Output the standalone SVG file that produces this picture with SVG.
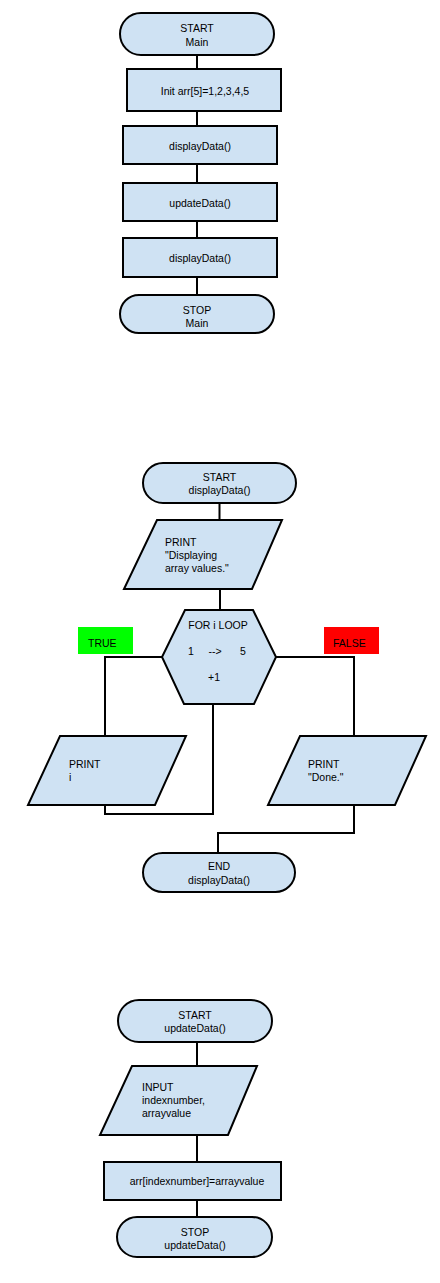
<svg xmlns="http://www.w3.org/2000/svg" width="440" height="1283" viewBox="0 0 440 1283">
<style>
.s{fill:#cfe2f3;stroke:#000;stroke-width:2}
.c{fill:none;stroke:#000;stroke-width:2}
text{font-family:"Liberation Sans",Arial,sans-serif;font-size:10.5px;fill:#000}
.m{text-anchor:middle}
</style>
<rect width="440" height="1283" fill="#fff"/>
<g id="connectors">
<path class="c" d="M197,55V69M197,111V126M197,164V183M197,221V238M197,277V295"/>
<path class="c" d="M219.5,503V520M220,589V610"/>
<path class="c" d="M162,657H105V736"/>
<path class="c" d="M276,657H354V736"/>
<path class="c" d="M213,704V814H105V805"/>
<path class="c" d="M354,805V833H218V853"/>
<path class="c" d="M197,1042V1066M197,1135V1162M197,1200V1217"/>
</g>
<g id="startMain"><rect class="s" x="120" y="13" width="154" height="42" rx="21"/><text class="m" x="197" y="32">START</text><text class="m" x="197" y="46">Main</text></g>
<g id="init"><rect class="s" x="127" y="69" width="154" height="42"/><text class="m" x="205" y="95">Init arr[5]=1,2,3,4,5</text></g>
<g id="display1"><rect class="s" x="123" y="126" width="154" height="38"/><text class="m" x="200" y="150">displayData()</text></g>
<g id="update"><rect class="s" x="123" y="183" width="154" height="38"/><text class="m" x="200" y="207">updateData()</text></g>
<g id="display2"><rect class="s" x="123" y="238" width="154" height="39"/><text class="m" x="200" y="262">displayData()</text></g>
<g id="stopMain"><rect class="s" x="120" y="295" width="154" height="38" rx="19"/><text class="m" x="197" y="314">STOP</text><text class="m" x="197" y="327">Main</text></g>

<g id="startDisplay"><rect class="s" x="143" y="463" width="153" height="40" rx="20"/><text class="m" x="219.5" y="481">START</text><text class="m" x="219.5" y="494">displayData()</text></g>
<g id="printDisplaying"><polygon class="s" points="157,520 282,520 252,589 124,589"/><text x="165" y="546">PRINT</text><text x="165" y="559">"Displaying</text><text x="165" y="572">array values."</text></g>
<g id="forLoop"><polygon class="s" points="185,610 253,610 276,657 254,704 184,704 162,657"/><text class="m" x="218" y="629">FOR i LOOP</text><text class="m" x="191" y="655">1</text><text class="m" x="215" y="655">--&gt;</text><text class="m" x="243" y="655">5</text><text class="m" x="214" y="681">+1</text></g>
<g id="trueLabel"><rect x="78" y="627" width="55" height="27" fill="#00ff00"/><text x="88" y="647">TRUE</text></g>
<g id="falseLabel"><rect x="324" y="627" width="55" height="27" fill="#ff0000"/><text x="333" y="647">FALSE</text></g>
<g id="printI"><polygon class="s" points="60,736 186,736 155,805 28,805"/><text x="69" y="768">PRINT</text><text x="69" y="781">i</text></g>
<g id="printDone"><polygon class="s" points="300,736 426,736 395,805 268,805"/><text x="308" y="768">PRINT</text><text x="308" y="781">"Done."</text></g>
<g id="endDisplay"><rect class="s" x="143" y="853" width="152" height="39" rx="19.5"/><text class="m" x="219" y="870">END</text><text class="m" x="219" y="884">displayData()</text></g>

<g id="startUpdate"><rect class="s" x="118" y="1000" width="154" height="42" rx="21"/><text class="m" x="195" y="1019">START</text><text class="m" x="195" y="1032">updateData()</text></g>
<g id="inputIndex"><polygon class="s" points="132,1066 257,1066 228,1135 100,1135"/><text x="142" y="1091">INPUT</text><text x="142" y="1104">indexnumber,</text><text x="142" y="1117">arrayvalue</text></g>
<g id="assign"><rect class="s" x="104" y="1162" width="177" height="38"/><text class="m" x="197" y="1185">arr[indexnumber]=arrayvalue</text></g>
<g id="stopUpdate"><rect class="s" x="117" y="1217" width="155" height="40" rx="20"/><text class="m" x="195" y="1236">STOP</text><text class="m" x="195" y="1249">updateData()</text></g>
</svg>
